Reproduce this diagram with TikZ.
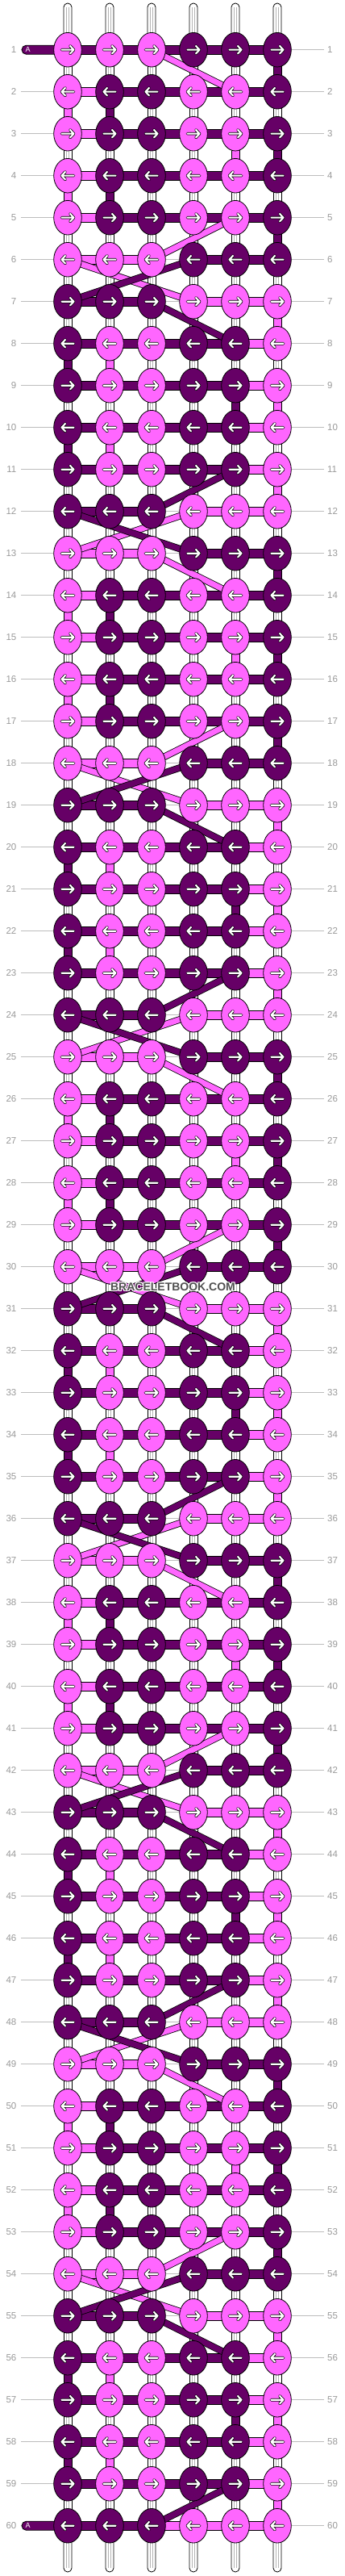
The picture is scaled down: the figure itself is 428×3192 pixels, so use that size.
\documentclass[tikz,border=0pt]{standalone}
\usepackage{fontspec}
\setmainfont{Liberation Sans}
\usetikzlibrary{shapes.geometric}
\definecolor{pk}{HTML}{FF66FF}
\definecolor{dk}{HTML}{660066}
\definecolor{lblgray}{HTML}{9A9A9A}
\definecolor{rowline}{HTML}{BDBDBD}
\definecolor{strgray}{HTML}{B4B4B4}
\definecolor{wm}{HTML}{505050}
\pgfdeclarelayer{bg}
\pgfdeclarelayer{seg}
\pgfdeclarelayer{band}
\pgfsetlayers{bg,seg,band,main}
% t = mod(row-1,12): knots (1=pink,0=dark), horizontal segments (2=none), vertical segments below (2=white string)
\newcommand\setpat[1]{%
\ifcase#1
 \def\KP{{1,1,1,0,0,0}}\def\HP{{1,1,2,0,0}}\def\VP{{2,2,2,2,2,0}}%
\or
 \def\KP{{1,0,0,1,1,0}}\def\HP{{1,0,0,0,0}}\def\VP{{1,0,2,2,2,2}}%
\or
 \def\KP{{1,0,0,1,1,0}}\def\HP{{1,0,0,0,0}}\def\VP{{2,2,2,2,1,0}}%
\or
 \def\KP{{1,0,0,1,1,0}}\def\HP{{1,0,0,0,0}}\def\VP{{1,0,2,2,2,2}}%
\or
 \def\KP{{1,0,0,1,1,0}}\def\HP{{1,0,0,0,0}}\def\VP{{2,2,2,2,2,0}}%
\or
 \def\KP{{1,1,1,0,0,0}}\def\HP{{1,1,2,0,0}}\def\VP{{2,2,2,2,2,2}}%
\or
 \def\KP{{0,0,0,1,1,1}}\def\HP{{0,0,2,1,1}}\def\VP{{2,2,2,2,2,1}}%
\or
 \def\KP{{0,1,1,0,0,1}}\def\HP{{0,0,0,0,1}}\def\VP{{0,1,2,2,2,2}}%
\or
 \def\KP{{0,1,1,0,0,1}}\def\HP{{0,0,0,0,1}}\def\VP{{2,2,2,2,0,1}}%
\or
 \def\KP{{0,1,1,0,0,1}}\def\HP{{0,0,0,0,1}}\def\VP{{0,1,2,2,2,2}}%
\or
 \def\KP{{0,1,1,0,0,1}}\def\HP{{0,0,0,0,1}}\def\VP{{2,2,2,2,2,1}}%
\or
 \def\KP{{0,0,0,1,1,1}}\def\HP{{0,0,2,1,1}}\def\VP{{2,2,2,2,2,2}}%
\fi}
\tikzset{
 knot/.style={ellipse, draw=black, line width=0.8pt, minimum width=34.6pt, minimum height=42.6pt, inner sep=0pt},
 segline/.style={draw=black, line width=0.8pt},
 strline/.style={draw=strgray, line width=0.7pt},
 band/.style={draw=#1, line width=7pt, preaction={draw=black, line width=8.6pt}},
 arrowout/.style={draw=black, line width=3.6pt, line cap=round, line join=round},
 arrowin/.style={draw=white, line width=2.1pt, line cap=round, line join=round},
 rowlbl/.style={text=lblgray, font=\fontsize{11.5}{13}\selectfont, inner sep=0pt},
 wmtext/.style={font=\bfseries\fontsize{14}{14}\selectfont, inner sep=0pt},
}
\begin{document}
\begin{tikzpicture}[x=1pt,y=-1pt]
\useasboundingbox (0,0) rectangle (428,3192);
\begin{pgfonlayer}{bg}
\fill[white] (0,0) rectangle (428,3192);
\foreach \rr in {1,...,60}{
  \pgfmathsetmacro\yy{9.7+52*\rr}
  \draw[rowline, line width=1pt] (26,\yy) -- (402,\yy);
}
\end{pgfonlayer}
% knots
\foreach \rr in {1,...,60}{
  \pgfmathtruncatemacro\ty{mod(\rr-1,12)}
  \setpat{\ty}
  \pgfmathsetmacro\yy{9.7+52*\rr}
  \ifodd\rr\def\dir{1}\else\def\dir{-1}\fi
  \foreach \cc in {1,...,6}{
    \pgfmathtruncatemacro\val{\KP[\cc-1]}
    \ifnum\val=1 \def\fc{pk}\else\def\fc{dk}\fi
    \node[knot, fill=\fc] (k\rr-\cc) at ({32+52*\cc},\yy) {};
    \begin{scope}[shift={(k\rr-\cc.center)}, xscale=\dir]
      \draw[arrowout] (-7.5,0) -- (7.5,0) (3,-4.8) -- (7.5,0) -- (3,4.8);
      \draw[arrowin] (-7.5,0) -- (7.5,0) (3,-4.8) -- (7.5,0) -- (3,4.8);
    \end{scope}
  }
  \node[rowlbl, anchor=east] (ll\rr) at (20.5,\yy) {\rr};
  \node[rowlbl, anchor=west] (rl\rr) at (406,\yy) {\rr};
}
% strings and segments
\begin{pgfonlayer}{seg}
\foreach \cc in {1,...,6}{
  \coordinate (top\cc) at ({32+52*\cc},4);
  \coordinate (bot\cc) at ({32+52*\cc},3187);
  \draw[segline, fill=white, rounded corners=4.9pt] ([xshift=-5pt]k1-\cc.center) -- ([xshift=-5pt]top\cc) -- ([xshift=5pt]top\cc) -- ([xshift=5pt]k1-\cc.center) -- cycle;
  \draw[strline] ([xshift=-1.7pt,yshift=-5pt]top\cc) -- ([xshift=-1.7pt]k1-\cc.center);
  \draw[strline] ([xshift=1.7pt,yshift=-5pt]top\cc) -- ([xshift=1.7pt]k1-\cc.center);
  \draw[segline, fill=white, rounded corners=4.9pt] ([xshift=-5pt]k60-\cc.center) -- ([xshift=-5pt]bot\cc) -- ([xshift=5pt]bot\cc) -- ([xshift=5pt]k60-\cc.center) -- cycle;
  \draw[strline] ([xshift=-1.7pt,yshift=5pt]bot\cc) -- ([xshift=-1.7pt]k60-\cc.center);
  \draw[strline] ([xshift=1.7pt,yshift=5pt]bot\cc) -- ([xshift=1.7pt]k60-\cc.center);
}
\coordinate (aend1) at (27,61.7);
\coordinate (aend60) at (27,3129.7);
\draw[segline, fill=dk, rounded corners=5.4pt] ([yshift=5.5pt]k1-1.center) -- ([yshift=5.5pt]aend1) -- ([yshift=-5.5pt]aend1) -- ([yshift=-5.5pt]k1-1.center) -- cycle;
\draw[segline, fill=dk, rounded corners=5.4pt] ([yshift=5.5pt]k60-1.center) -- ([yshift=5.5pt]aend60) -- ([yshift=-5.5pt]aend60) -- ([yshift=-5.5pt]k60-1.center) -- cycle;
\foreach \rr in {1,...,60}{
  \pgfmathtruncatemacro\ty{mod(\rr-1,12)}
  \setpat{\ty}
  \ifnum\rr=1 \def\HP{{0,0,0,0,0}}\fi
  \ifnum\rr=60 \def\HP{{0,0,1,1,1}}\fi
  \foreach \cc in {1,...,5}{
    \pgfmathtruncatemacro\val{\HP[\cc-1]}
    \pgfmathtruncatemacro\nc{\cc+1}
    \ifnum\val<2
      \ifnum\val=1 \def\fc{pk}\else\def\fc{dk}\fi
      \filldraw[segline, fill=\fc] ([yshift=5.5pt]k\rr-\cc.center) rectangle ([yshift=-5.5pt]k\rr-\nc.center);
    \fi
  }
  \ifnum\rr<60
    \pgfmathtruncatemacro\nr{\rr+1}
    \foreach \cc in {1,...,6}{
      \pgfmathtruncatemacro\val{\VP[\cc-1]}
      \ifnum\val=2
        \filldraw[segline, fill=white] ([xshift=-5pt]k\rr-\cc.center) rectangle ([xshift=5pt]k\nr-\cc.center);
        \draw[strline] ([xshift=-1.7pt]k\rr-\cc.center) -- ([xshift=-1.7pt]k\nr-\cc.center);
        \draw[strline] ([xshift=1.7pt]k\rr-\cc.center) -- ([xshift=1.7pt]k\nr-\cc.center);
      \else
        \ifnum\val=1 \def\fc{pk}\else\def\fc{dk}\fi
        \filldraw[segline, fill=\fc] ([xshift=-5pt]k\rr-\cc.center) rectangle ([xshift=5pt]k\nr-\cc.center);
      \fi
    }
  \fi
}
\end{pgfonlayer}
% diagonal bands (dark band on top where two cross)
\begin{pgfonlayer}{band}
\foreach \rr in {1,...,59}{
  \pgfmathtruncatemacro\ty{mod(\rr-1,12)}
  \pgfmathtruncatemacro\nr{\rr+1}
  \ifcase\ty
    \draw[band=pk] (k\rr-3.center) -- (k\nr-5.center);
  \or\or\or\or
    \draw[band=pk] (k\rr-5.center) -- (k\nr-3.center);
  \or
    \draw[band=pk] (k\rr-1.center) -- (k\nr-4.center);
    \draw[band=dk] (k\rr-4.center) -- (k\nr-1.center);
  \or
    \draw[band=dk] (k\rr-3.center) -- (k\nr-5.center);
  \or\or\or\or
    \draw[band=dk] (k\rr-5.center) -- (k\nr-3.center);
  \or
    \draw[band=pk] (k\rr-4.center) -- (k\nr-1.center);
    \draw[band=dk] (k\rr-1.center) -- (k\nr-4.center);
  \fi
}
\end{pgfonlayer}
\node[text=white, font=\fontsize{9}{9}\selectfont, inner sep=0pt] (alab1) at (34.7,61.7) {A};
\node[text=white, font=\fontsize{9}{9}\selectfont, inner sep=0pt] (alab60) at (34.7,3129.7) {A};
% watermark
\node[wmtext, text=white] (wmh1) at (213.5,1594) {BRACELETBOOK.COM};
\node[wmtext, text=white] (wmh2) at (215.5,1594) {BRACELETBOOK.COM};
\node[wmtext, text=white] (wmh3) at (213.5,1596) {BRACELETBOOK.COM};
\node[wmtext, text=white] (wmh4) at (215.5,1596) {BRACELETBOOK.COM};
\node[wmtext, text=wm] (wmark) at (214.5,1595) {BRACELETBOOK.COM};
\end{tikzpicture}
\end{document}
